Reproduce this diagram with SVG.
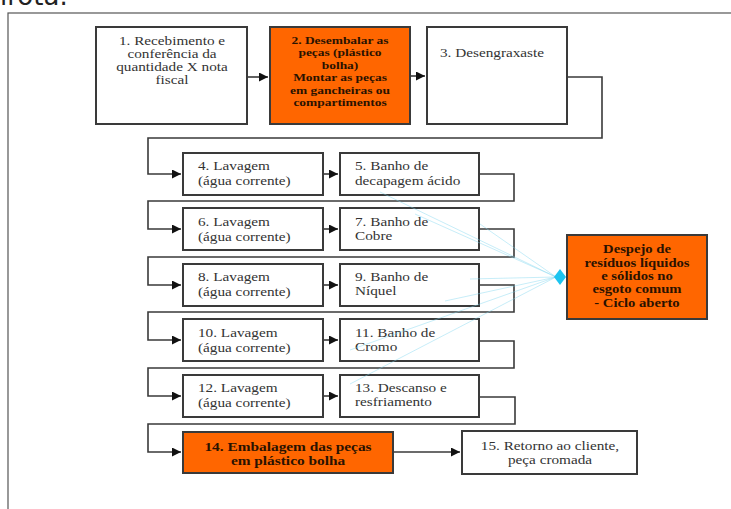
<svg xmlns="http://www.w3.org/2000/svg" width="731" height="509" viewBox="0 0 731 509">
<defs>
<marker id="arr" markerWidth="10" markerHeight="10" refX="9" refY="4.5" orient="auto" markerUnits="userSpaceOnUse">
<path d="M0,0 L9,4.5 L0,9 Z" fill="#111"/>
</marker>
<style>
.box{fill:#fff;stroke:#3a3a3a;stroke-width:2}
.org{fill:#ff6600;stroke:#3a3a3a;stroke-width:2}
.t{font-family:"Liberation Serif","Times New Roman",serif;font-size:12.7px;fill:#333}
.b{font-family:"Liberation Serif","Times New Roman",serif;font-size:11.2px;font-weight:bold;fill:#2a1200}
.c{text-anchor:middle}
.con{fill:none;stroke:#3a3a3a;stroke-width:1.6}
.cy{fill:none;stroke:#7fd6f0;stroke-width:0.8;stroke-opacity:0.55}
</style>
</defs>
<rect width="731" height="509" fill="#fff"/>
<text x="0" y="5" style="font-family:'DejaVu Sans',sans-serif;font-size:26px;fill:#222">irota.</text>
<rect x="8" y="13" width="740" height="520" fill="none" stroke="#555" stroke-width="1.2"/>

<g id="connectors">
<path class="con" d="M247,77 H268" marker-end="url(#arr)"/>
<path class="con" d="M410,76 H425" marker-end="url(#arr)"/>
<path class="con" d="M567,77 H602 V138 H148 V174 H181" marker-end="url(#arr)"/>
<path class="con" d="M323,174 H338" marker-end="url(#arr)"/>
<path class="con" d="M479,174 H514 V201 H148 V229 H181" marker-end="url(#arr)"/>
<path class="con" d="M323,229 H338" marker-end="url(#arr)"/>
<path class="con" d="M479,229 H514 V257 H148 V285 H181" marker-end="url(#arr)"/>
<path class="con" d="M323,285 H338" marker-end="url(#arr)"/>
<path class="con" d="M479,285 H514 V312 H148 V340 H181" marker-end="url(#arr)"/>
<path class="con" d="M323,340 H338" marker-end="url(#arr)"/>
<path class="con" d="M479,341 H514 V368 H148 V396 H181" marker-end="url(#arr)"/>
<path class="con" d="M323,396 H338" marker-end="url(#arr)"/>
<path class="con" d="M479,397 H515 V424 H148 V452 H181" marker-end="url(#arr)"/>
<path class="con" d="M393,452 H460" marker-end="url(#arr)"/>
</g>

<g id="n1">
<rect class="box" x="96" y="27" width="151" height="97"/>
<g transform="matrix(1.2 0 0 1 172 0)">
<text class="t c" x="0" y="45">1. Recebimento e</text>
<text class="t c" x="0" y="58">conferência da</text>
<text class="t c" x="0" y="71">quantidade X nota</text>
<text class="t c" x="0" y="84">fiscal</text>
</g>
</g>
<g id="n2">
<rect class="org" x="270" y="27" width="140" height="97"/>
<g transform="matrix(1.2 0 0 1 340 0)">
<text class="b c" x="0" y="44">2. Desembalar as</text>
<text class="b c" x="0" y="56.5">peças (plástico</text>
<text class="b c" x="0" y="69">bolha)</text>
<text class="b c" x="0" y="81.5">Montar as peças</text>
<text class="b c" x="0" y="94">em gancheiras ou</text>
<text class="b c" x="0" y="106.5">compartimentos</text>
</g>
</g>
<g id="n3">
<rect class="box" x="427" y="27" width="140" height="97"/>
<g transform="matrix(1.2 0 0 1 440 0)"><text class="t" x="0" y="57">3. Desengraxaste</text></g>
</g>
<g id="n4">
<rect class="box" x="183" y="153" width="140" height="42"/>
<g transform="matrix(1.2 0 0 1 198 0)">
<text class="t" x="0" y="170">4. Lavagem</text>
<text class="t" x="0" y="185">(água corrente)</text>
</g>
</g>
<g id="n5">
<rect class="box" x="340" y="153" width="139" height="42"/>
<g transform="matrix(1.2 0 0 1 355 0)">
<text class="t" x="0" y="170">5. Banho de</text>
<text class="t" x="0" y="185">decapagem ácido</text>
</g>
</g>
<g id="n6">
<rect class="box" x="183" y="208" width="140" height="42"/>
<g transform="matrix(1.2 0 0 1 198 0)">
<text class="t" x="0" y="226">6. Lavagem</text>
<text class="t" x="0" y="241">(água corrente)</text>
</g>
</g>
<g id="n7">
<rect class="box" x="340" y="208" width="139" height="42"/>
<g transform="matrix(1.2 0 0 1 355 0)">
<text class="t" x="0" y="226">7. Banho de</text>
<text class="t" x="0" y="240">Cobre</text>
</g>
</g>
<g id="n8">
<rect class="box" x="183" y="264" width="140" height="42"/>
<g transform="matrix(1.2 0 0 1 198 0)">
<text class="t" x="0" y="281">8. Lavagem</text>
<text class="t" x="0" y="296">(água corrente)</text>
</g>
</g>
<g id="n9">
<rect class="box" x="340" y="264" width="139" height="42"/>
<g transform="matrix(1.2 0 0 1 355 0)">
<text class="t" x="0" y="281">9. Banho de</text>
<text class="t" x="0" y="295">Níquel</text>
</g>
</g>
<g id="n10">
<rect class="box" x="183" y="319" width="140" height="42"/>
<g transform="matrix(1.2 0 0 1 198 0)">
<text class="t" x="0" y="337">10. Lavagem</text>
<text class="t" x="0" y="352">(água corrente)</text>
</g>
</g>
<g id="n11">
<rect class="box" x="340" y="319" width="139" height="42"/>
<g transform="matrix(1.2 0 0 1 355 0)">
<text class="t" x="0" y="337">11. Banho de</text>
<text class="t" x="0" y="351">Cromo</text>
</g>
</g>
<g id="n12">
<rect class="box" x="183" y="375" width="140" height="42"/>
<g transform="matrix(1.2 0 0 1 198 0)">
<text class="t" x="0" y="392">12. Lavagem</text>
<text class="t" x="0" y="407">(água corrente)</text>
</g>
</g>
<g id="n13">
<rect class="box" x="340" y="375" width="139" height="42"/>
<g transform="matrix(1.2 0 0 1 355 0)">
<text class="t" x="0" y="392">13. Descanso e</text>
<text class="t" x="0" y="406">resfriamento</text>
</g>
</g>
<g id="n14">
<rect class="org" x="183" y="432" width="210" height="41"/>
<g transform="matrix(1.2 0 0 1 288 0)">
<text class="b c" x="0" y="451" style="font-size:12.8px">14. Embalagem das peças</text>
<text class="b c" x="0" y="465" style="font-size:12.8px">em plástico bolha</text>
</g>
</g>
<g id="n15">
<rect class="box" x="462" y="431" width="175" height="43"/>
<g transform="matrix(1.2 0 0 1 550 0)">
<text class="t c" x="0" y="450">15. Retorno ao cliente,</text>
<text class="t c" x="0" y="464">peça cromada</text>
</g>
</g>

<g id="waste-lines">
<path class="cy" d="M556,277 L380,192 M556,277 L415,214 M556,277 L480,224 M556,277 L470,279 M556,277 L445,301 M556,277 L350,350 M556,277 L350,384"/>
</g>

<g id="n16">
<rect class="org" x="567" y="235" width="140" height="84"/>
<g transform="matrix(1.2 0 0 1 637 0)">
<text class="b c" x="0" y="253" style="font-size:12.2px">Despejo de</text>
<text class="b c" x="0" y="267" style="font-size:12.2px">resíduos líquidos</text>
<text class="b c" x="0" y="280" style="font-size:12.2px">e sólidos no</text>
<text class="b c" x="0" y="293" style="font-size:12.2px">esgoto comum</text>
<text class="b c" x="0" y="307" style="font-size:12.2px">- Ciclo aberto</text>
</g>
<path d="M560,269 L566,277 L560,285 L554,277 Z" fill="#1cc4f0"/>
</g>
</svg>
